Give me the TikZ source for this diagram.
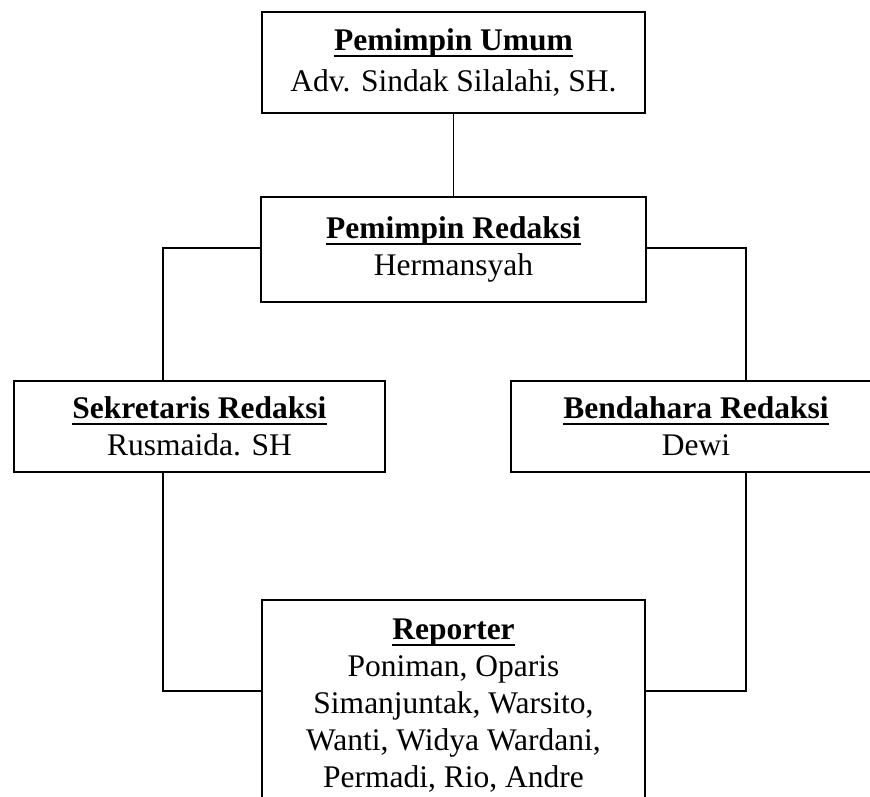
\documentclass[tikz,border=0pt]{standalone}
\usepackage{fontspec}
\setmainfont{Liberation Serif}
\usetikzlibrary{calc}
\newcommand\myul[1]{\leavevmode\setbox0=\hbox{#1}\rlap{\rule[-6.5pt]{\wd0}{2.3pt}}\box0}
\tikzset{
  orgbox/.style={draw, line width=1.8pt, inner sep=0pt, align=center,
    font=\fontsize{31.5}{37}\selectfont},
  link/.style={line width=1.8pt}
}
\begin{document}
\begin{tikzpicture}[x=1pt,y=-1pt]
\useasboundingbox (0,0) rectangle (870,796);
\clip (0,0) rectangle (870,796);
\node[orgbox, minimum width=383pt, minimum height=101pt] (PU) at (453.5,62.5)
  {\myul{\textbf{Pemimpin Umum}}\\[4pt]Adv. Sindak Silalahi, SH.};
\node[orgbox, minimum width=385pt, minimum height=105pt] (PR) at (453.5,249.5)
  {\myul{\textbf{Pemimpin Redaksi}}\\Hermansyah};
\node[orgbox, minimum width=371pt, minimum height=91pt] (SK) at (199.5,426.5)
  {\myul{\textbf{Sekretaris Redaksi}}\\Rusmaida. SH};
\node[orgbox, minimum width=370pt, minimum height=91pt] (BD) at (696,426.5)
  {\myul{\textbf{Bendahara Redaksi}}\\Dewi};
\node[orgbox, minimum width=383pt, minimum height=212pt] (RP) at (453.5,706)
  {\myul{\textbf{Reporter}}\\Poniman, Oparis\\Simanjuntak, Warsito,\\Wanti, Widya Wardani,\\Permadi, Rio, Andre};
\draw[link] (PU.south) -- (PR.north);
\draw[link] ([yshift=1.5pt]PR.west) -| ($(SK.north west)!0.4016!(SK.north east)$);
\draw[link] ([yshift=1.5pt]PR.east) -| ($(BD.north west)!0.635!(BD.north east)$);
\draw[link] ($(SK.south west)!0.4016!(SK.south east)$) |- ([yshift=15pt]RP.west);
\draw[link] ($(BD.south west)!0.635!(BD.south east)$) |- ([yshift=15pt]RP.east);
\end{tikzpicture}
\end{document}
